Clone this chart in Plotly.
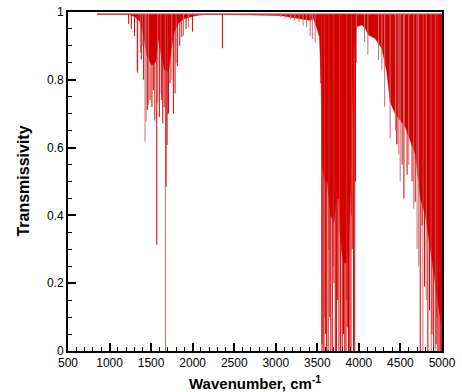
import plotly.graph_objects as go

# ---------------- data ----------------
baseline_t = 0.993
baseline_start = 848
baseline_end = 5000

# lower edge of the dense (solid) absorption regions
band_wn = [848, 1226, 1307, 1367, 1407, 1447, 1508, 1556, 1587, 1620, 1660, 1708, 1740, 1780,
           1828, 1888, 2029, 2150, 3050, 3300, 3420, 3450, 3490, 3525, 3545, 3560, 3590, 3620,
           3640, 3660, 3700, 3730, 3760, 3790, 3820, 3860, 3880, 3900, 3915, 3935, 3956, 3976,
           4036, 4076, 4116, 4196, 4276, 4336, 4376, 4436, 4500, 4560, 4620, 4680, 4740, 4800,
           4860, 4920, 4960, 4990, 5000]
band_t = [0.993, 0.993, 0.986, 0.971, 0.932, 0.873, 0.844, 0.853, 0.922, 0.873, 0.829, 0.824,
          0.883, 0.942, 0.967, 0.979, 0.989, 0.993, 0.99, 0.98, 0.975, 0.982, 0.955, 0.93, 0.80,
          0.55, 0.50, 0.50, 0.45, 0.40, 0.38, 0.45, 0.45, 0.30, 0.26, 0.26, 0.35, 0.49, 0.70,
          0.883, 0.932, 0.957, 0.962, 0.952, 0.932, 0.922, 0.893, 0.824, 0.735, 0.70, 0.68,
          0.66, 0.62, 0.58, 0.45, 0.40, 0.30, 0.20, 0.12, 0.08, 0.08]

# strong individual lines (wavenumber, minimum transmissivity)
red_wn = [1230, 1262, 1300, 1334, 1382, 1410, 1455, 1487, 1510, 1527, 1545, 1568, 1599, 1628,
          1640, 1656, 1680, 1692, 1710, 1728, 1768, 1788, 1816, 1845, 1869, 1921, 1997, 2358,
          3520, 3543, 3556, 3568, 3580, 3600, 3612, 3630, 3650, 3662, 3680, 3700, 3716, 3730,
          3745, 3760, 3780, 3800, 3815, 3830, 3845, 3860, 3875, 3890, 3905, 3920, 3936, 3950,
          3960, 4457, 4520, 4580, 4640, 4678, 4738, 4760, 4790, 4830, 4850, 4880, 4900, 4930,
          4950, 4965, 4980, 4995]
red_t = [0.965, 0.95, 0.93, 0.824, 0.86, 0.80, 0.711, 0.74, 0.72, 0.77, 0.68, 0.313, 0.69, 0.74,
         0.672, 0.72, 0.485, 0.608, 0.70, 0.79, 0.70, 0.76, 0.84, 0.90, 0.927, 0.95, 0.942, 0.893,
         0.93, 0.79, 0.02, 0.0, 0.0, 0.05, 0.0, 0.0, 0.10, 0.0, 0.0, 0.20, 0.0, 0.0,
         0.15, 0.0, 0.0, 0.0, 0.05, 0.0, 0.0, 0.07, 0.0, 0.0, 0.0, 0.30, 0.0, 0.0,
         0.50, 0.61, 0.55, 0.52, 0.50, 0.44, 0.0, 0.37, 0.19, 0.0, 0.12, 0.05, 0.0, 0.02,
         0.0, 0.0, 0.0, 0.0]

# weaker / fainter lines
pink_wn = [1339, 1370, 1400, 1427, 1440, 1467, 1580, 1620, 1672, 1700, 1750, 1800, 1890, 1950,
           3060, 3120, 3180, 3230, 3280, 3330, 3370, 3414, 3440, 3474,
           3552, 3590, 3640, 3690, 3770, 3850, 3870, 3910, 3940, 3970, 4068, 4108, 4236, 4276,
           4310, 4376, 4440, 4457, 4480, 4497, 4537, 4545, 4600, 4660, 4700, 4720, 4770, 4810,
           4870, 4920, 4940]
pink_t = [0.82, 0.88, 0.90, 0.617, 0.677, 0.726, 0.73, 0.76, 0.0, 0.70, 0.80, 0.85, 0.93, 0.955,
          0.985, 0.982, 0.978, 0.975, 0.97, 0.96, 0.955, 0.93, 0.92, 0.91,
          0.0, 0.10, 0.30, 0.25, 0.35, 0.15, 0.068, 0.40, 0.70, 0.85, 0.912, 0.873, 0.858, 0.83,
          0.72, 0.628, 0.65, 0.61, 0.58, 0.50, 0.45, 0.45, 0.55, 0.42, 0.30, 0.25, 0.0, 0.15,
          0.0, 0.0, 0.10]

x_ticks = [500, 1000, 1500, 2000, 2500, 3000, 3500, 4000, 4500, 5000]
y_ticks = [0, 0.2, 0.4, 0.6, 0.8, 1]

RED = "rgb(212,0,0)"
PINK = "rgb(204,112,112)"
FONT = "Liberation Sans, Arial"


def spikes(wn, t):
    xs, ys = [], []
    for w, v in zip(wn, t):
        xs += [w, w, None]
        ys += [baseline_t, v, None]
    return xs, ys


fig = go.Figure()

# solid absorption regions
poly_x = band_wn + band_wn[::-1]
poly_y = band_t + [baseline_t] * len(band_wn)
fig.add_trace(go.Scatter(x=poly_x, y=poly_y, mode="lines", fill="toself",
                         fillcolor=RED, line=dict(color=RED, width=0.5),
                         hoverinfo="skip", showlegend=False))

# baseline
fig.add_trace(go.Scatter(x=[baseline_start, baseline_end], y=[baseline_t, baseline_t],
                         mode="lines", line=dict(color="rgb(214,60,60)", width=1.5),
                         showlegend=False))

px_, py_ = spikes(pink_wn, pink_t)
fig.add_trace(go.Scatter(x=px_, y=py_, mode="lines", line=dict(color=PINK, width=1),
                         showlegend=False))
rx_, ry_ = spikes(red_wn, red_t)
fig.add_trace(go.Scatter(x=rx_, y=ry_, mode="lines", line=dict(color=RED, width=1),
                         showlegend=False))

axis_common = dict(showline=True, linecolor="black", linewidth=2, mirror=True,
                   ticks="inside", ticklen=8, tickwidth=2, tickcolor="black",
                   showgrid=False, zeroline=False, automargin=False,
                   tickfont=dict(family=FONT, size=12, color="black"))

fig.update_xaxes(range=[500, 5000], tickvals=x_ticks, ticktext=[str(v) for v in x_ticks],
                 minor=dict(dtick=100, ticks="inside", ticklen=4, tickwidth=1, tickcolor="black"),
                 **axis_common)
fig.update_yaxes(range=[0, 1], tickvals=y_ticks, ticktext=["0", "0.2", "0.4", "0.6", "0.8", "1"],
                 minor=dict(dtick=0.05, ticks="inside", ticklen=4, tickwidth=1, tickcolor="black"),
                 **axis_common)

fig.add_annotation(text="<b>Wavenumber, cm<sup>-1</sup></b>", xref="paper", yref="paper",
                   x=0.5, y=-0.092, xanchor="center", yanchor="middle", showarrow=False,
                   font=dict(family=FONT, size=15, color="black"))
fig.add_annotation(text="<b>Transmissivity</b>", xref="paper", yref="paper",
                   x=-0.12, y=0.5, xanchor="center", yanchor="middle", showarrow=False,
                   textangle=-90, font=dict(family=FONT, size=16, color="black"))

fig.update_layout(width=462, height=392, margin=dict(l=68, r=20, t=12, b=41),
                  paper_bgcolor="white", plot_bgcolor="white", showlegend=False)

fig.write_html("out.html")
